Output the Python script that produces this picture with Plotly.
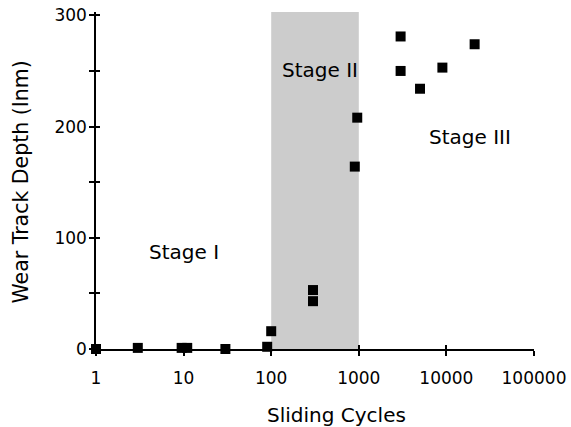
import math
import plotly.graph_objects as go

cycles = [1, 3, 9.5, 11, 30, 90, 100, 300, 300, 900, 960, 3000, 3000, 5000, 9000, 21000]
depth = [0, 1, 1, 1, 0, 2, 16, 53, 43, 164, 208, 281, 250, 234, 253, 274]

stage_labels = ["Stage I", "Stage II", "Stage III"]
stage_x = [10, 360, 18600]
stage_y = [87, 251, 191]

stage2_span = [100, 1000]

x_tickvals = [1, 10, 100, 1000, 10000, 100000]
x_ticktext = ["1", "10", "100", "1000", "10000", "100000"]
y_tickvals = [0, 50, 100, 150, 200, 250, 300]
y_ticktext = ["0", "", "100", "", "200", "", "300"]

x_title = "Sliding Cycles"
y_title = "Wear Track Depth (Inm)"

FONT = "DejaVu Sans"

fig = go.Figure()
fig.add_trace(go.Scatter(
    x=cycles, y=depth, mode="markers",
    marker=dict(symbol="square", size=10, color="black"),
    cliponaxis=False, showlegend=False,
))
# dummy trace for overlay axes (inside tick halves)
fig.add_trace(go.Scatter(x=[1], y=[0], xaxis="x2", yaxis="y2", mode="markers",
                         marker=dict(opacity=0), showlegend=False, hoverinfo="skip"))

fig.add_shape(type="rect", xref="x", yref="y",
              x0=stage2_span[0], x1=stage2_span[1], y0=0, y1=303,
              fillcolor="#cccccc", line=dict(width=0), layer="below")

for t, xx, yy in zip(stage_labels, stage_x, stage_y):
    fig.add_annotation(x=math.log10(xx), y=yy, text=t, showarrow=False, xref="x", yref="y",
                       xanchor="center", yanchor="middle",
                       font=dict(family=FONT, size=20, color="black"))

fig.add_annotation(x=0.548, y=-0.196, xref="paper", yref="paper", text=x_title,
                   xanchor="center", yanchor="middle",
                   showarrow=False, font=dict(family=FONT, size=20, color="black"))
fig.add_annotation(x=-0.172, y=0.496, xref="paper", yref="paper", text=y_title,
                   xanchor="center", yanchor="middle",
                   textangle=-90, showarrow=False, font=dict(family=FONT, size=20.5, color="black"))

common = dict(showgrid=False, zeroline=False, showline=True, linecolor="black", linewidth=1.5,
              tickcolor="black", tickwidth=1.5, automargin=False)

fig.update_layout(
    width=571, height=427,
    margin=dict(l=96, r=37, t=12, b=78),
    paper_bgcolor="white", plot_bgcolor="white",
    font=dict(family=FONT, size=17, color="black"),
    xaxis=dict(type="log", range=[0, 5], tickvals=x_tickvals, ticktext=x_ticktext,
               ticks="outside", ticklen=5, ticklabelstandoff=8, **common),
    yaxis=dict(range=[0, 303], tickvals=y_tickvals, ticktext=y_ticktext,
               ticks="outside", ticklen=5, ticklabelstandoff=-1, **common),
    xaxis2=dict(type="log", range=[0, 5], tickvals=x_tickvals, overlaying="x",
                anchor="y2", ticks="inside", ticklen=4, showticklabels=False,
                showgrid=False, zeroline=False, showline=False, tickcolor="black", tickwidth=1.5,
                side="bottom"),
    yaxis2=dict(range=[0, 303], tickvals=y_tickvals, overlaying="y",
                anchor="x2", ticks="inside", ticklen=4, showticklabels=False,
                showgrid=False, zeroline=False, showline=False, tickcolor="black", tickwidth=1.5,
                side="left"),
)

fig.write_html("out.html", config={"displayModeBar": False},
               post_script="document.body.style.margin='0';document.body.style.padding='0';")
